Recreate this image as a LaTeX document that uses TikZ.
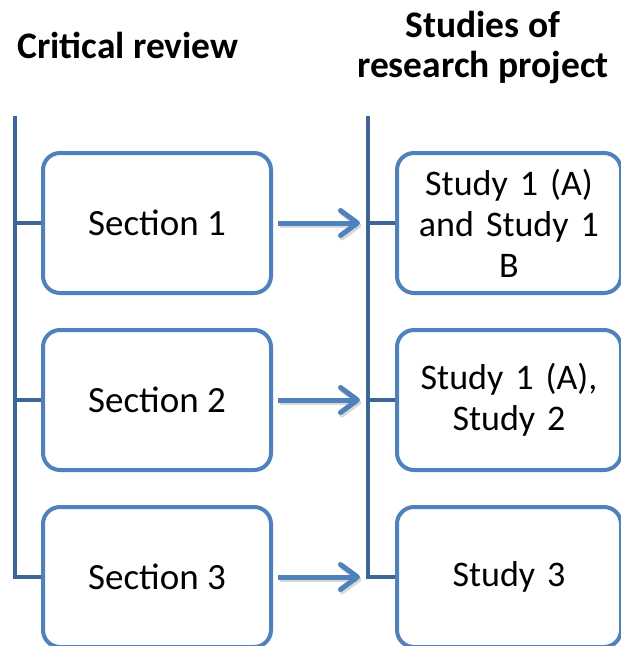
\documentclass[tikz,border=0pt]{standalone}
\usepackage{fontspec}
\setmainfont{Carlito}
\usetikzlibrary{arrows.meta,calc}

\definecolor{boxblue}{HTML}{4F81BD}
\definecolor{spineblue}{HTML}{3E6596}

\begin{document}
\begin{tikzpicture}[
  x=1pt, y=-1pt,
  stagebox/.style={draw=boxblue, line width=4pt, rounded corners=17pt,
    fill=white, minimum width=228pt, minimum height=140pt, align=center,
    inner sep=4pt, font=\fontsize{37}{41}\selectfont},
  studybox/.style={stagebox, minimum width=224pt, text width=214pt,
    font=\fontsize{36}{41}\selectfont},
  heading/.style={align=center, font=\fontsize{37.5}{40}\selectfont\bfseries},
  spine/.style={draw=spineblue, line width=4.5pt},
  flow/.style={draw=boxblue, line width=5pt,
    -{Straight Barb[length=17pt,width=25pt,line width=0pt 1,line join=round,line cap=round]},
    shorten <=5pt, shorten >=35pt},
  flowshadow/.style={flow, draw=black, opacity=0.15}
]
\useasboundingbox (0,0) rectangle (621,646);

% column headings
\node[heading] (hleft)  at (128,45) {Critical review};
\node[heading] (hright) at (483,48) {Studies of\\research project};

% section boxes of the critical review
\node[stagebox] (s1) at (157,223) {Section 1};
\node[stagebox] (s2) at (157,400) {Section 2};
\node[stagebox] (s3) at (157,577) {Section 3};

% study boxes of the research project
\node[studybox] (r1) at (509,223) {Study 1 (A)\\and Study 1\\B};
\node[studybox] (r2) at (509,400) {Study 1 (A),\\Study 2};
\node[studybox] (r3) at (509,577) {Study 3};

% spines with their ticks
\coordinate (ltop) at (15,116);
\coordinate (rtop) at (368,116);
\draw[spine] (ltop) |- (s3.west);
\draw[spine] (s1.west -| ltop) -- (s1.west);
\draw[spine] (s2.west -| ltop) -- (s2.west);
\draw[spine] (rtop) |- (r3.west);
\draw[spine] (r1.west -| rtop) -- (r1.west);
\draw[spine] (r2.west -| rtop) -- (r2.west);

% arrows from sections to studies
\foreach \a/\b in {s1/r1, s2/r2, s3/r3}{
  \draw[flowshadow, transform canvas={shift={(1.5pt,-2.5pt)}}] (\a.east) -- (\b.west);
  \draw[flow] (\a.east) -- (\b.west);
}
\end{tikzpicture}
\end{document}
